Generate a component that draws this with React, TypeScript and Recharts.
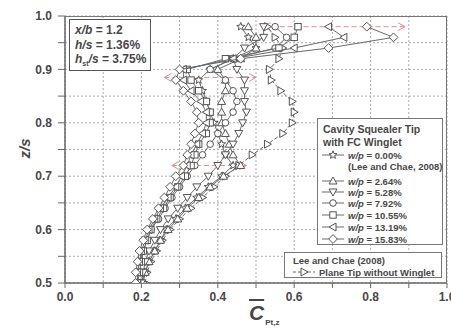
import React from 'react'
import { ScatterChart, Scatter, XAxis, YAxis, CartesianGrid } from 'recharts'

// spanwise positions (z/s) of the measured points
const Z_POS = [
  0.5, 0.52, 0.54, 0.56, 0.58, 0.6, 0.62, 0.64, 0.66, 0.68, 0.7, 0.72, 0.74,
  0.76, 0.78, 0.8, 0.82, 0.84, 0.86, 0.88, 0.9, 0.92, 0.94, 0.96, 0.98,
]

// pitch-averaged total pressure loss, one value per Z_POS entry
const WP_000 = [0.205, 0.21, 0.22, 0.235, 0.25, 0.265, 0.29, 0.315, 0.345, 0.375, 0.41, 0.44, 0.42, 0.41, 0.4, 0.39, 0.38, 0.37, 0.36, 0.35, 0.38, 0.44, 0.5, 0.48, 0.46]
const WP_264 = [0.2, 0.21, 0.22, 0.235, 0.25, 0.27, 0.295, 0.32, 0.35, 0.38, 0.415, 0.46, 0.44, 0.43, 0.42, 0.41, 0.41, 0.41, 0.42, 0.42, 0.4, 0.46, 0.5, 0.5, 0.48]
const WP_528 = [0.2, 0.205, 0.21, 0.22, 0.235, 0.25, 0.27, 0.295, 0.32, 0.345, 0.375, 0.4, 0.42, 0.44, 0.455, 0.465, 0.475, 0.47, 0.47, 0.47, 0.45, 0.44, 0.47, 0.52, 0.52]
const WP_792 = [0.19, 0.19, 0.195, 0.205, 0.215, 0.225, 0.245, 0.262, 0.28, 0.3, 0.32, 0.34, 0.36, 0.38, 0.4, 0.42, 0.44, 0.45, 0.44, 0.42, 0.38, 0.44, 0.55, 0.58, 0.55]
const WP_1055 = [0.19, 0.195, 0.2, 0.205, 0.215, 0.225, 0.24, 0.258, 0.275, 0.295, 0.315, 0.33, 0.34, 0.35, 0.37, 0.38, 0.38, 0.37, 0.35, 0.33, 0.32, 0.42, 0.56, 0.6, 0.61]
const WP_1319 = [0.19, 0.19, 0.195, 0.2, 0.21, 0.22, 0.235, 0.25, 0.27, 0.29, 0.305, 0.32, 0.33, 0.345, 0.36, 0.37, 0.37, 0.355, 0.33, 0.31, 0.31, 0.44, 0.6, 0.73, 0.69]
const WP_1583 = [0.185, 0.185, 0.19, 0.195, 0.205, 0.215, 0.23, 0.245, 0.26, 0.275, 0.29, 0.31, 0.32, 0.33, 0.34, 0.35, 0.345, 0.33, 0.31, 0.29, 0.3, 0.46, 0.69, 0.86, 0.79]
const PLANE_TIP = [0.21, 0.215, 0.225, 0.24, 0.255, 0.275, 0.3, 0.33, 0.36, 0.39, 0.42, 0.455, 0.49, 0.53, 0.57, 0.595, 0.6, 0.595, 0.565, 0.54, 0.535, 0.56, 0.57, 0.55, 0.53]

// red dashed arrows (range markers)
const ARROW_Z = [0.72, 0.885, 0.98]
const ARROW_FROM = [0.28, 0.26, 0.52]
const ARROW_TO = [0.475, 0.5, 0.89]

const X_TICKS = [0, 0.1, 0.2, 0.3, 0.4, 0.5, 0.6, 0.7, 0.8, 0.9, 1.0]
const Y_TICKS = [0.5, 0.55, 0.6, 0.65, 0.7, 0.75, 0.8, 0.85, 0.9, 0.95, 1.0]

const FONT = '"Liberation Sans", Arial, sans-serif'
const INK = '#474747'
const LINE = '#6a6a6a'
const PINK = '#e58c8c'

type Kind = 'star' | 'up' | 'down' | 'circle' | 'square' | 'left' | 'diamond' | 'right'

const Marker = ({ kind, cx, cy }: { kind: Kind; cx: number; cy: number }) => {
  const poly = (pts: number[][]) => pts.map(([x, y]) => `${cx + x},${cy + y}`).join(' ')
  const st = { fill: '#fff', stroke: '#555', strokeWidth: 1 }
  switch (kind) {
    case 'star': {
      const pts: number[][] = []
      for (let i = 0; i < 10; i++) {
        const r = i % 2 === 0 ? 4.2 : 1.8
        const a = -Math.PI / 2 + (i * Math.PI) / 5
        pts.push([r * Math.cos(a), r * Math.sin(a)])
      }
      return <polygon points={poly(pts)} {...st} />
    }
    case 'up':
      return <polygon points={poly([[0, -4], [4, 3], [-4, 3]])} {...st} />
    case 'down':
      return <polygon points={poly([[0, 4], [4, -3], [-4, -3]])} {...st} />
    case 'left':
      return <polygon points={poly([[-4, 0], [3, -4], [3, 4]])} {...st} />
    case 'right':
      return <polygon points={poly([[4, 0], [-3, -4], [-3, 4]])} {...st} />
    case 'circle':
      return <circle cx={cx} cy={cy} r={3.3} {...st} />
    case 'square':
      return <rect x={cx - 3.2} y={cy - 3.2} width={6.4} height={6.4} {...st} />
    case 'diamond':
      return <polygon points={poly([[0, -4.4], [4.4, 0], [0, 4.4], [-4.4, 0]])} {...st} />
  }
  return null
}

const SERIES: { kind: Kind; vals: number[]; dashed?: boolean }[] = [
  { kind: 'right', vals: PLANE_TIP, dashed: true },
  { kind: 'star', vals: WP_000 },
  { kind: 'up', vals: WP_264 },
  { kind: 'down', vals: WP_528 },
  { kind: 'circle', vals: WP_792 },
  { kind: 'square', vals: WP_1055 },
  { kind: 'left', vals: WP_1319 },
  { kind: 'diamond', vals: WP_1583 },
]

const arrowShape = (props: any) => {
  const { cx, cy, payload } = props
  const d = payload.end === 'l' ? 1 : -1
  return (
    <polyline
      points={`${cx + d * 7},${cy - 4} ${cx},${cy} ${cx + d * 7},${cy + 4}`}
      fill="none"
      stroke={PINK}
      strokeWidth={1}
    />
  )
}

const LegendRow = ({ kind, dashed, left, top, children }: any) => (
  <div style={{ position: 'absolute', left, top, height: 12, display: 'flex', alignItems: 'center', whiteSpace: 'nowrap' }}>
    <svg width={23} height={12} style={{ display: 'block' }}>
      <line x1={0} y1={6} x2={22} y2={6} stroke={LINE} strokeDasharray={dashed ? '3 2' : undefined} />
      <Marker kind={kind} cx={11} cy={6} />
    </svg>
    <span style={{ marginLeft: 3 }}>{children}</span>
  </div>
)

const WP = ({ v }: { v: string }) => (
  <>
    <i>w/p</i> = {v}
  </>
)

export default function App() {
  const tickStyle = { fill: INK, fontSize: 12, fontWeight: 700, fontFamily: FONT }
  return (
    <div style={{ position: 'absolute', left: 0, top: 0, width: 451, height: 331, background: '#fff', fontFamily: FONT, color: INK, fontWeight: 700, overflow: 'hidden' }}>
      <ScatterChart width={451} height={331} margin={{ top: 16, right: 4, bottom: 0, left: 0 }}>
        <CartesianGrid strokeDasharray="2 2" stroke="#aaa" />
        <XAxis
          type="number"
          dataKey="v"
          domain={[0, 1]}
          ticks={X_TICKS}
          interval={0}
          height={48}
          tick={tickStyle}
          tickSize={5}
          tickMargin={4}
          tickFormatter={(t: number) => (Math.round(t * 10) % 2 === 0 ? t.toFixed(1) : '')}
          axisLine={{ stroke: '#666', strokeWidth: 1.5 }}
          tickLine={{ stroke: '#666' }}
          allowDataOverflow
        />
        <YAxis
          type="number"
          dataKey="z"
          domain={[0.5, 1]}
          ticks={Y_TICKS}
          interval={0}
          width={65}
          tick={tickStyle}
          tickSize={7}
          tickMargin={6}
          tickFormatter={(t: number) => (Math.round(t * 100) % 10 === 0 ? t.toFixed(1) : '')}
          axisLine={{ stroke: '#666', strokeWidth: 1.5 }}
          tickLine={{ stroke: '#666' }}
          allowDataOverflow
        />
        {ARROW_Z.map((z, i) => (
          <Scatter
            key={`arrow-${i}`}
            data={[
              { v: ARROW_FROM[i], z, end: 'l' },
              { v: ARROW_TO[i], z, end: 'r' },
            ]}
            line={{ stroke: PINK, strokeWidth: 1, strokeDasharray: '5 3' }}
            lineType="joint"
            shape={arrowShape}
            isAnimationActive={false}
          />
        ))}
        {SERIES.map((s) => (
          <Scatter
            key={s.kind}
            data={s.vals.map((v, i) => ({ v, z: Z_POS[i] }))}
            line={{ stroke: LINE, strokeWidth: 1, strokeDasharray: s.dashed ? '4 2' : undefined }}
            lineType="joint"
            shape={(p: any) => <Marker kind={s.kind} cx={p.cx} cy={p.cy} />}
            isAnimationActive={false}
          />
        ))}
      </ScatterChart>

      {/* plot frame top/right */}
      <div style={{ position: 'absolute', left: 65, top: 16, width: 382, height: 267, borderTop: '1px solid #777', borderRight: '1.5px solid #777', boxSizing: 'border-box', pointerEvents: 'none' }} />

      {/* axis titles */}
      <div style={{ position: 'absolute', left: 4, top: 140, width: 40, textAlign: 'center', transform: 'rotate(-90deg)', fontSize: 15, fontStyle: 'italic' }}>z/s</div>
      <div style={{ position: 'absolute', left: 249, top: 302, fontSize: 21, fontStyle: 'italic', lineHeight: '22px' }}>
        <span style={{ textDecoration: 'overline' }}>C</span>
        <span style={{ fontSize: 8, fontStyle: 'normal', position: 'relative', top: 5, marginLeft: 1 }}>Pt,z</span>
      </div>

      {/* conditions box */}
      <div style={{ position: 'absolute', left: 69, top: 19, width: 82, height: 52, border: '1px solid #555', background: '#fff', boxSizing: 'border-box', fontSize: 12, lineHeight: '14.5px', padding: '3px 0 0 5px', whiteSpace: 'nowrap' }}>
        <div><i>x/b</i> = 1.2</div>
        <div><i>h/s</i> = 1.36%</div>
        <div>
          <i>h</i>
          <sub style={{ fontSize: 7 }}>st</sub>
          <i>/s</i> = 3.75%
        </div>
      </div>

      {/* main legend */}
      <div style={{ position: 'absolute', left: 317, top: 118, width: 126, height: 127, border: '1px solid #777', background: '#fff', boxSizing: 'border-box', fontSize: 9.5 }}>
        <div style={{ position: 'absolute', left: 5, top: 4, fontSize: 10.5, lineHeight: '13px', whiteSpace: 'nowrap' }}>
          Cavity Squealer Tip
          <br />
          with FC Winglet
        </div>
        <LegendRow kind="star" left={4} top={30}><WP v="0.00%" /></LegendRow>
        <div style={{ position: 'absolute', left: 30, top: 42, whiteSpace: 'nowrap' }}>(Lee and Chae, 2008)</div>
        <LegendRow kind="up" left={4} top={56}><WP v="2.64%" /></LegendRow>
        <LegendRow kind="down" left={4} top={67}><WP v="5.28%" /></LegendRow>
        <LegendRow kind="circle" left={4} top={78}><WP v="7.92%" /></LegendRow>
        <LegendRow kind="square" left={4} top={90}><WP v="10.55%" /></LegendRow>
        <LegendRow kind="left" left={4} top={102}><WP v="13.19%" /></LegendRow>
        <LegendRow kind="diamond" left={4} top={114}><WP v="15.83%" /></LegendRow>
      </div>

      {/* plane tip legend */}
      <div style={{ position: 'absolute', left: 284, top: 252, width: 158, height: 26, border: '1px solid #777', background: '#fff', boxSizing: 'border-box', fontSize: 9.5 }}>
        <div style={{ position: 'absolute', left: 8, top: 2, whiteSpace: 'nowrap' }}>Lee and Chae (2008)</div>
        <LegendRow kind="right" dashed left={8} top={13}>Plane Tip without Winglet</LegendRow>
      </div>
    </div>
  )
}
